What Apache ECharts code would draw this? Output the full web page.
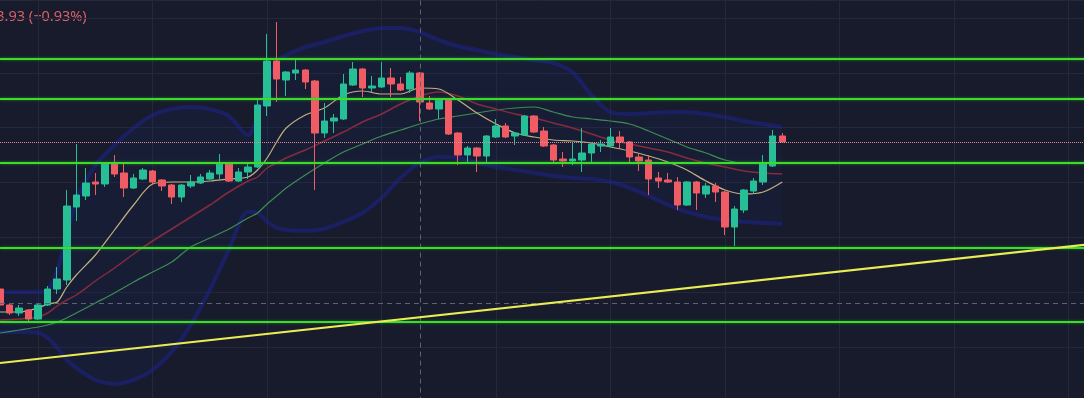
<!DOCTYPE html>
<html>
<head>
<meta charset="utf-8">
<title>K线走势</title>
<script src="https://cdn.jsdelivr.net/npm/echarts@6/dist/echarts.min.js"></script>
<style>
    html, body { margin: 0; padding: 0; background: #171b2b; }
    #main { width: 1084px; height: 398px; }
</style>
</head>
<body>
<div id="main"></div>
<script>
// K线数据 [open, close, low, high]
var candles = [
    [357.7, 349.7, 348.7, 358.7], [349.7, 345.7, 344.7, 350.7], [345.7, 348.2, 344.2, 349.7],
    [347.2, 342.7, 341.2, 347.7], [342.7, 349.7, 342.2, 350.2], [349.7, 357.7, 349.2, 359.2],
    [357.7, 362.7, 355.2, 368.7], [362.2, 399.2, 359.7, 407.2], [398.7, 404.7, 391.7, 430.2],
    [404.2, 410.7, 402.2, 418.2], [411.2, 410.2, 404.7, 415.7], [410.2, 420.7, 408.7, 421.2],
    [420.7, 415.2, 413.7, 424.7], [415.7, 408.2, 403.7, 420.7], [408.2, 413.2, 407.7, 415.2],
    [412.7, 417.2, 412.2, 418.2], [416.7, 411.2, 410.2, 417.2], [412.2, 409.2, 406.7, 412.7],
    [409.7, 403.7, 400.2, 410.2], [403.7, 409.7, 401.2, 410.2], [409.2, 411.2, 408.2, 414.7],
    [410.7, 413.7, 410.2, 415.2], [412.7, 415.7, 412.2, 417.2], [415.2, 420.7, 412.7, 425.2],
    [420.7, 411.7, 411.2, 421.2], [411.7, 416.2, 411.2, 418.2], [416.2, 418.7, 412.7, 420.7],
    [418.7, 449.7, 418.2, 452.7], [449.2, 471.7, 444.2, 485.2], [471.7, 462.7, 451.2, 491.2],
    [462.2, 466.2, 454.2, 466.7], [465.7, 467.2, 462.2, 472.7], [467.2, 461.2, 457.7, 467.7],
    [461.7, 435.7, 407.2, 462.2], [435.7, 441.7, 433.2, 450.7], [441.7, 443.2, 435.7, 445.2],
    [442.7, 460.2, 442.2, 465.2], [459.7, 467.7, 459.2, 471.2], [467.7, 458.2, 453.7, 468.2],
    [458.2, 459.2, 456.2, 464.2], [458.7, 463.2, 458.2, 471.2], [463.2, 460.2, 453.7, 468.2],
    [460.2, 457.2, 456.7, 463.7], [457.7, 465.7, 455.7, 466.7], [465.7, 451.2, 441.7, 466.2],
    [450.7, 447.7, 447.2, 454.2], [447.7, 452.2, 442.7, 452.7], [452.2, 435.2, 434.7, 452.7],
    [435.7, 424.7, 419.7, 436.2], [424.7, 428.2, 420.7, 429.2], [428.2, 424.2, 416.2, 428.7],
    [424.2, 434.2, 421.2, 434.7], [433.7, 439.2, 433.2, 442.7], [439.2, 433.7, 433.2, 440.7],
    [434.2, 435.7, 429.7, 436.2], [434.7, 444.2, 434.2, 444.7], [444.2, 436.2, 435.7, 444.7],
    [436.7, 429.2, 428.7, 438.7], [429.7, 422.2, 420.7, 430.2], [422.7, 421.7, 418.7, 426.2],
    [421.7, 422.7, 419.7, 431.2], [422.2, 425.7, 416.2, 438.2], [425.7, 430.2, 420.7, 430.7],
    [429.2, 430.2, 426.2, 432.2], [429.2, 433.7, 428.7, 438.2], [433.7, 431.2, 428.2, 436.7],
    [431.2, 423.7, 420.7, 431.7], [423.7, 421.7, 416.7, 425.7], [422.2, 412.7, 404.7, 424.7],
    [413.2, 411.7, 408.2, 416.2], [412.2, 411.2, 410.7, 415.7], [411.2, 399.7, 397.2, 413.7],
    [399.7, 411.2, 399.2, 411.7], [411.2, 405.7, 397.2, 411.7], [405.2, 409.2, 403.2, 410.7],
    [409.2, 406.2, 401.2, 410.7], [406.2, 388.7, 384.7, 406.7], [388.7, 397.7, 379.2, 399.2],
    [397.2, 407.2, 395.7, 407.7], [406.7, 411.7, 405.2, 413.2], [411.2, 420.2, 409.7, 424.7],
    [419.2, 434.2, 418.7, 437.2], [434.2, 431.2, 430.7, 435.7]
];

// 均线/布林带取样点（K线序号）
var lineIdx = [0, 2, 4, 5, 6, 7, 8, 10, 12, 14, 16, 18, 20, 22, 24, 26, 27, 28, 29, 30,
    32, 34, 36, 38, 40, 42, 44, 46, 48, 50, 52, 54, 56, 58, 60, 62, 64, 66, 68, 70,
    72, 74, 76, 78, 80, 82];
var maFast = [346.2, 346.2, 348.2, 350.2, 351.2, 358.7, 364.7, 374.7, 387.2, 399.7,
    410.2, 411.2, 411.2, 411.7, 412.7, 413.7, 417.2, 423.2, 431.2, 438.2,
    444.7, 448.2, 454.7, 456.7, 455.2, 455.2, 458.2, 457.7, 452.2, 445.7,
    440.2, 435.7, 433.7, 432.2, 431.7, 430.7, 428.7, 426.7, 424.2, 421.2,
    417.2, 411.7, 407.2, 405.2, 406.2, 411.2];
var maMid = [342.2, 342.7, 343.7, 345.7, 349.2, 352.2, 354.7, 361.7, 368.2, 375.2,
    381.7, 387.7, 393.7, 399.7, 406.2, 411.7, 413.7, 418.2, 420.7, 423.2,
    427.2, 431.7, 436.2, 441.2, 445.2, 450.2, 454.2, 456.2, 454.2, 450.2,
    447.7, 445.2, 443.2, 440.7, 438.2, 435.2, 432.2, 430.2, 428.2, 426.2,
    423.2, 420.7, 418.7, 416.7, 415.7, 415.2];
var maSlow = [335.7, 337.2, 338.7, 339.7, 341.2, 343.2, 345.7, 350.7, 355.7, 361.2,
    366.2, 371.2, 378.7, 383.2, 387.7, 393.2, 395.7, 400.2, 404.2, 408.2,
    414.7, 420.7, 426.2, 430.2, 434.2, 437.2, 440.2, 442.7, 444.2, 445.7,
    447.2, 448.2, 448.7, 446.2, 443.7, 442.7, 441.7, 440.2, 436.7, 432.7,
    428.7, 425.7, 422.2, 420.7, 420.7, 420.7];
var bandUpper = [356.2, 356.2, 356.2, 357.2, 367.2, 384.7, 402.2, 419.7, 429.7, 438.2,
    444.7, 447.7, 448.7, 447.7, 444.2, 434.7, 444.7, 459.7, 471.2, 474.7,
    478.7, 481.2, 484.2, 486.7, 488.2, 488.2, 486.2, 482.2, 479.2, 477.2,
    475.2, 473.7, 472.2, 470.7, 466.2, 454.7, 446.2, 445.2, 445.7, 446.2,
    446.2, 445.2, 443.7, 441.7, 440.2, 438.7];
var bandLower = [336.2, 336.2, 335.7, 333.2, 328.2, 322.2, 318.2, 312.2, 310.2, 312.2,
    317.2, 326.2, 339.7, 357.2, 377.2, 396.2, 395.7, 391.2, 388.2, 387.2,
    386.7, 387.7, 391.2, 395.7, 403.2, 413.2, 420.7, 423.7, 423.2, 420.7,
    418.7, 417.2, 415.7, 414.2, 413.2, 412.7, 411.2, 408.2, 404.2, 399.7,
    396.2, 393.7, 392.2, 391.2, 390.7, 390.2];

// 水平支撑/压力位
var levels = [472.9, 452.9, 420.6, 378.1, 341.1];
// 趋势线两端
var trendIdx = [0, 115];
var trendVal = [320.7, 380.5];
// 十字光标
var crossIdx = 44;
var crossVal = 350.7;
var slotCount = 116;
var changeText = '−3.93 (−0.93%)';

var slots = [];
for (var i = 0; i < slotCount; i++) { slots.push(String(i)); }
var lastClose = candles[candles.length - 1][1];

function pairs(vals) {
    return lineIdx.map(function (x, k) { return [x, vals[k]]; });
}

var myChart = echarts.init(document.getElementById('main'));
var option = {
    backgroundColor: '#171b2b',
    animation: false,
    grid: { left: 0, right: -13.1, top: 0, bottom: -3.6, outerBoundsMode: 'none' },
    xAxis: {
        type: 'category',
        data: slots,
        boundaryGap: false,
        axisLine: { show: false },
        axisTick: { show: false },
        axisLabel: { show: false },
        splitLine: {
            show: true,
            interval: function (index) { return (index - 4) % 12 === 0; },
            lineStyle: { color: '#242839', width: 1 }
        }
    },
    yAxis: {
        type: 'value',
        min: 301.4,
        max: 502.2,
        interval: 27.4,
        axisLine: { show: false },
        axisTick: { show: false },
        axisLabel: { show: false },
        splitLine: { show: true, lineStyle: { color: '#242839', width: 1 } }
    },
    graphic: [{
        type: 'text',
        x: -12,
        y: 9,
        style: { text: changeText, fill: '#d8606a', font: '14.5px "Noto Sans"' }
    }],
    series: [
        {
            name: 'bandBase', type: 'line', stack: 'bb', z: 1,
            data: pairs(bandLower), smooth: 0.3, symbol: 'none', silent: true,
            lineStyle: { opacity: 0 }
        },
        {
            name: 'bandFill', type: 'line', stack: 'bb', z: 1,
            data: lineIdx.map(function (x, k) { return [x, bandUpper[k] - bandLower[k]]; }),
            smooth: 0.3, symbol: 'none', silent: true,
            lineStyle: { opacity: 0 },
            areaStyle: { color: 'rgba(34,40,130,0.14)', opacity: 1 }
        },
        {
            name: 'upper', type: 'line', z: 1, data: pairs(bandUpper), smooth: 0.3,
            symbol: 'none', silent: true,
            lineStyle: { color: 'rgba(30,36,150,0.5)', width: 4 }
        },
        {
            name: 'lower', type: 'line', z: 1, data: pairs(bandLower), smooth: 0.3,
            symbol: 'none', silent: true,
            lineStyle: { color: 'rgba(30,36,150,0.5)', width: 4 }
        },
        {
            name: 'cross', type: 'line', data: [], z: 1, silent: true,
            markLine: {
                symbol: 'none', silent: true, label: { show: false },
                lineStyle: { color: '#5d6275', type: [5, 4], width: 1 },
                data: [{ xAxis: crossIdx }, { yAxis: crossVal }]
            }
        },
        {
            name: 'maSlow', type: 'line', z: 2, data: pairs(maSlow), smooth: 0.3,
            symbol: 'none', lineStyle: { color: '#3d8c52', width: 1.2 }
        },
        {
            name: 'maMid', type: 'line', z: 2, data: pairs(maMid), smooth: 0.3,
            symbol: 'none', lineStyle: { color: '#862b3d', width: 1.5 }
        },
        {
            name: 'maFast', type: 'line', z: 2, data: pairs(maFast), smooth: 0.3,
            symbol: 'none', lineStyle: { color: '#c3b07f', width: 1.2 }
        },
        {
            name: 'K', type: 'candlestick', z: 3, data: candles, barWidth: 7,
            itemStyle: {
                color: '#26bf96', color0: '#f05c64',
                borderColor: '#26bf96', borderColor0: '#f05c64', borderWidth: 1
            },
            markLine: {
                symbol: 'none', silent: true, label: { show: false },
                lineStyle: { color: '#d88c98', type: 'dotted', width: 1 },
                data: [{ yAxis: lastClose }]
            }
        },
        {
            name: 'levels', type: 'line', data: [], z: 4, silent: true,
            markLine: {
                symbol: 'none', silent: true, label: { show: false },
                lineStyle: {
                    color: '#3ddb2d', type: 'solid', width: 2.2,
                    shadowColor: 'rgba(40,200,30,0.6)', shadowBlur: 3
                },
                data: levels.map(function (v) { return { yAxis: v }; })
            }
        },
        {
            name: 'trend', type: 'line', z: 5, silent: true, symbol: 'none',
            data: trendIdx.map(function (x, k) { return [x, trendVal[k]]; }),
            lineStyle: { color: '#e9ec55', width: 2.2 }
        }
    ]
};
myChart.setOption(option);
</script>
</body>
</html>
